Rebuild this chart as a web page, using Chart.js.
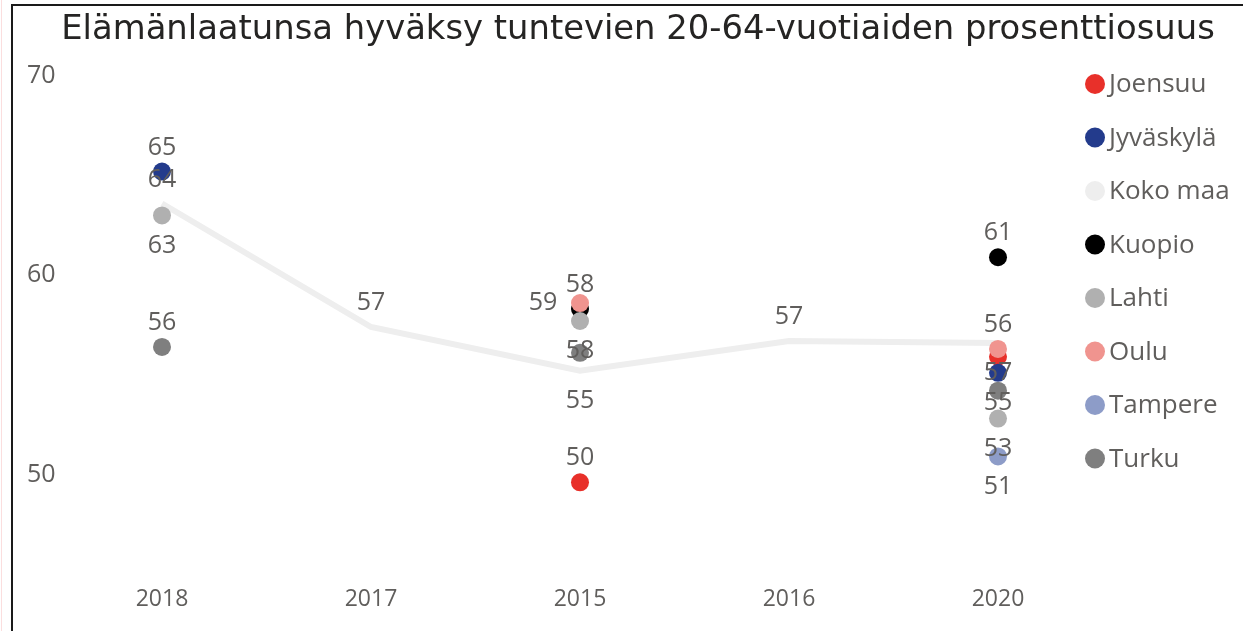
<!DOCTYPE html>
<html>
<head>
<meta charset="utf-8">
<script src="https://cdn.jsdelivr.net/npm/chart.js@4/dist/chart.umd.min.js"></script>
<style>
  html, body { margin: 0; padding: 0; background: #fff; }
  #wrap { position: relative; width: 1243px; height: 631px; overflow: hidden; }
  #frame { position: absolute; left: 11px; top: 4px; right: -10px; bottom: -10px; border-left: 2px solid #1a1a1a; border-top: 2px solid #1a1a1a; pointer-events: none; }
  #edge { position: absolute; left: 1px; top: 0; width: 1px; height: 631px; background: #fbdede; }
</style>
</head>
<body>
<div id="wrap">
  <canvas id="myChart" width="1243" height="631"></canvas>
  <div id="frame"></div>
  <div id="edge"></div>
</div>
<script>
const categories = ['2018', '2017', '2015', '2016', '2020']
const cities = ['Joensuu', 'Jyväskylä', 'Koko maa', 'Kuopio', 'Lahti', 'Oulu', 'Tampere', 'Turku']

const joensuu   = [null, null, 49.6, null, 55.9]
const jyvaskyla = [65.2, null, null, null, 55.1]
const kokoMaa   = [63.6, 57.4, 55.2, 56.7, 56.6]
const kuopio    = [null, null, 58.3, null, 60.9]
const lahti     = [63.0, null, 57.7, null, 52.8]
const oulu      = [null, null, 58.6, null, 56.3]
const tampere   = [null, null, null, null, 50.9]
const turku     = [56.4, null, 56.1, null, 54.2]

const yTicks = [50, 60, 70]

// where each value label sits relative to its point
const placement = [
  [null, null, 'above', null, 'none'],
  ['above', null, null, null, 'below'],
  ['above', 'above', 'below', 'above', 'below'],
  [null, null, 'above', null, 'above'],
  ['below', null, 'below', null, 'below'],
  [null, null, 'left', null, 'above'],
  [null, null, null, null, 'below'],
  ['above', null, 'none', null, 'none']
]

const seriesValues = [joensuu, jyvaskyla, kokoMaa, kuopio, lahti, oulu, tampere, turku]
const seriesColors = ['#e8302a', '#233b8c', '#eeeeee', '#000000', '#b0b0b0', '#f0948f', '#8d9cc8', '#7f7f7f']

const textColor = '#605e5c'

const valueLabels = {
  id: 'valueLabels',
  afterDatasetsDraw(chart) {
    const ctx = chart.ctx
    ctx.save()
    ctx.font = '25px "Open Sans"'
    ctx.fillStyle = textColor
    ctx.textAlign = 'center'
    ctx.textBaseline = 'middle'
    chart.data.datasets.forEach(function (ds, i) {
      const meta = chart.getDatasetMeta(i)
      meta.data.forEach(function (pt, j) {
        const v = ds.data[j]
        const where = placement[i][j]
        if (v == null || !where || where === 'none') return
        let x = pt.x
        let y = pt.y
        if (where === 'above') y -= 24
        if (where === 'below') y += 30
        if (where === 'left') x -= 37
        ctx.fillText(String(Math.round(v)), x, y)
      })
    })
    ctx.restore()
  }
}

const sideLegend = {
  id: 'sideLegend',
  afterDraw(chart) {
    const ctx = chart.ctx
    ctx.save()
    ctx.font = '26px "Open Sans"'
    ctx.textAlign = 'left'
    ctx.textBaseline = 'middle'
    chart.data.datasets.forEach(function (ds, i) {
      const y = 84 + i * 53.5
      ctx.fillStyle = ds.backgroundColor
      ctx.beginPath()
      ctx.arc(1095, y, 10, 0, Math.PI * 2)
      ctx.fill()
      ctx.fillStyle = textColor
      ctx.fillText(ds.label, 1109, y + 1)
    })
    ctx.restore()
  }
}

const datasets = cities.map(function (name, i) {
  const isLine = name === 'Koko maa'
  return {
    label: name,
    data: seriesValues[i],
    backgroundColor: seriesColors[i],
    borderColor: seriesColors[i],
    showLine: isLine,
    borderWidth: isLine ? 6 : 0,
    pointRadius: isLine ? 0 : 9,
    pointHoverRadius: isLine ? 0 : 9,
    pointBorderWidth: 0,
    order: cities.length - i
  }
})

Chart.defaults.font.family = '"Open Sans", sans-serif'

const ctx = document.getElementById('myChart').getContext('2d')
const chart = new Chart(ctx, {
  type: 'line',
  data: {
    labels: categories,
    datasets: datasets
  },
  options: {
    responsive: false,
    animation: false,
    devicePixelRatio: 1,
    events: [],
    layout: { padding: { left: 14, right: -19, top: 0, bottom: 0 } },
    plugins: {
      legend: { display: false },
      tooltip: { enabled: false },
      title: {
        display: true,
        text: 'Elämänlaatunsa hyväksy tuntevien 20-64-vuotiaiden prosenttiosuus',
        color: '#252423',
        font: { family: '"DejaVu Sans"', size: 33.8, weight: 'normal' },
        padding: { top: 10, bottom: 25.4 }
      }
    },
    scales: {
      x: {
        offset: true,
        grid: { display: false, drawTicks: false },
        border: { display: false },
        ticks: {
          color: textColor,
          font: { size: 23 },
          padding: 12
        },
        afterFit: function (scale) { scale.height = 57 }
      },
      y: {
        min: 45,
        max: 70,
        grid: { display: false, drawTicks: false },
        border: { display: false },
        afterBuildTicks: function (scale) {
          scale.ticks = yTicks.map(function (v) { return { value: v } })
        },
        afterFit: function (scale) { scale.width = 43.5 },
        ticks: { color: textColor, font: { size: 25 }, padding: 2 }
      },
      y2: {
        position: 'right',
        grid: { display: false, drawTicks: false },
        border: { display: false },
        ticks: { display: false },
        afterFit: function (scale) { scale.width = 159.5 }
      }
    }
  },
  plugins: [valueLabels, sideLegend]
})
</script>
</body>
</html>
